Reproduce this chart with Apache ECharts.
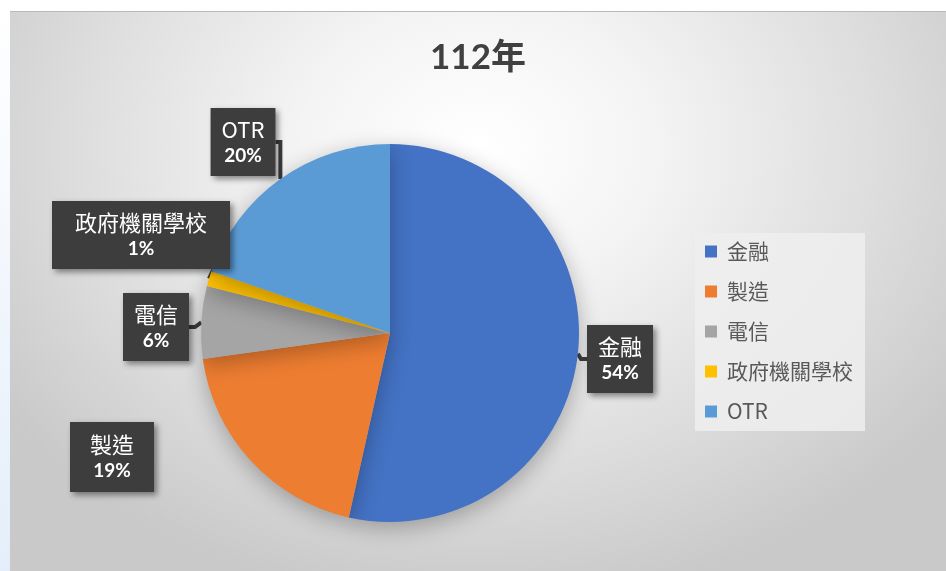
<!DOCTYPE html>
<html>
<head>
<meta charset="utf-8">
<script src="https://cdn.jsdelivr.net/npm/echarts@6/dist/echarts.min.js"></script>
<style>
html,body{margin:0;padding:0;}
body{width:946px;height:571px;overflow:hidden;background:linear-gradient(#ffffff,#e4eefa);position:relative;}
#chart{position:absolute;left:10px;top:11px;width:936px;height:560px;border-top:1px solid #b9b9b9;box-sizing:border-box;
  background:radial-gradient(ellipse 62% 82% at 50% 24%,#ffffff 0%,#f4f4f4 30%,#dedede 68%,#c9c9c9 100%);}
</style>
</head>
<body>
<div id="chart"></div>
<script>
//分類與數值
var titleText = '112年';
var categories = ['金融', '製造', '電信', '政府機關學校', 'OTR'];
var values = [53.5, 19.3, 6.2, 1.3, 19.7];
var colors = ['#4472C4', '#ED7D31', '#A5A5A5', '#FFC000', '#5B9BD5'];

//標籤框的位置(容器座標)
var labelPos = [[610, 347], [102, 445], [146, 315], [131, 223], [233, 130]];
var labelPad = [[8, 11], [9, 20], [8, 11], [8, 23], [8, 11]];
var showTail = [true, false, true, true, true];

function buildData() {
    var arr = [];
    for (var i = 0; i < categories.length; i++) {
        arr.push({
            name: categories[i],
            value: values[i],
            itemStyle: {color: colors[i]},
            label: {padding: labelPad[i]},
            labelLine: {show: showTail[i]}
        });
    }
    return arr;
}

var chart = echarts.init(document.getElementById('chart'), null, {renderer: 'canvas'});
var option = {
    backgroundColor: 'transparent',
    title: {
        text: titleText,
        left: 'center',
        top: 26,
        padding: 0,
        textStyle: {
            fontSize: 35,
            fontWeight: 'bold',
            color: '#404040',
            fontFamily: 'Lato, "Noto Sans CJK TC", sans-serif',
            lineHeight: 40
        }
    },
    legend: {
        orient: 'vertical',
        left: 685,
        top: 221,
        icon: 'rect',
        itemWidth: 12,
        itemHeight: 12,
        itemGap: 19,
        padding: [8, 12, 9, 10],
        backgroundColor: 'rgba(238,238,238,0.85)',
        textStyle: {
            fontSize: 21,
            color: '#595959',
            fontFamily: '"Noto Sans CJK TC", Lato, sans-serif',
            padding: [0, 0, 0, 5]
        },
        data: categories
    },
    series: [{
        type: 'pie',
        center: [380, 321],
        radius: 189,
        startAngle: 90,
        clockwise: true,
        percentPrecision: 0,
        avoidLabelOverlap: false,
        animation: false,
        itemStyle: {
            shadowBlur: 22,
            shadowColor: 'rgba(0,0,0,0.28)',
            shadowOffsetY: 6
        },
        label: {
            show: true,
            position: 'outside',
            formatter: '{n|{b}}\n{p|{d}%}',
            backgroundColor: '#3d3d3d',
            align: 'center',
            shadowBlur: 6,
            shadowColor: 'rgba(0,0,0,0.45)',
            shadowOffsetX: 3,
            shadowOffsetY: 3,
            rich: {
                n: {
                    fontSize: 22,
                    color: '#ffffff',
                    lineHeight: 28,
                    fontFamily: '"Noto Sans CJK TC", Lato, sans-serif',
                    fontWeight: 'normal',
                    align: 'center'
                },
                p: {
                    fontSize: 19,
                    color: '#ffffff',
                    lineHeight: 24,
                    fontWeight: 'bold',
                    fontFamily: 'Lato, sans-serif',
                    align: 'center'
                }
            }
        },
        labelLine: {
            show: true,
            length: 8,
            length2: 6,
            lineStyle: {color: '#3d3d3d', width: 4}
        },
        labelLayout: function (params) {
            var p = labelPos[params.dataIndex];
            return {x: p[0], y: p[1], align: 'center', verticalAlign: 'middle'};
        },
        emphasis: {disabled: true},
        data: buildData()
    }]
};
chart.setOption(option);
</script>
</body>
</html>
